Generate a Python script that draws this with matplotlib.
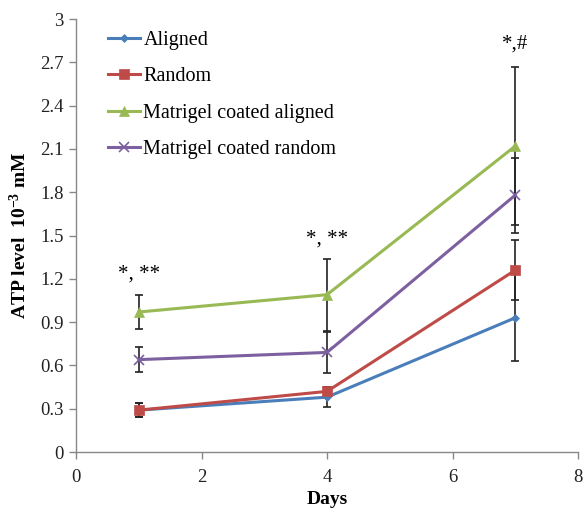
import matplotlib
matplotlib.use("Agg")
import matplotlib.pyplot as plt

days = [1, 4, 7]
aligned = [0.29, 0.38, 0.93]
aligned_err = [0.05, 0.07, 0.30]
random_ = [0.29, 0.42, 1.26]
random_err = [0.05, 0.03, 0.21]
mc_aligned = [0.97, 1.09, 2.12]
mc_aligned_err = [0.12, 0.25, 0.545]
mc_random = [0.64, 0.69, 1.78]
mc_random_err = [0.085, 0.14, 0.26]
annotations = ["*, **", "*, **", "*,#"]
annot_y = [1.17, 1.41, 2.76]

plt.rcParams['font.family'] = ['Liberation Serif', 'DejaVu Serif']
plt.rcParams['mathtext.fontset'] = 'custom'
plt.rcParams['mathtext.rm'] = 'Liberation Serif'
plt.rcParams['mathtext.bf'] = 'Liberation Serif:bold'

fig = plt.figure(figsize=(5.86, 5.13), dpi=100)
ax = fig.add_axes([0.1297, 0.1189, 0.8567, 0.844])

series = [
    ("Aligned", aligned, aligned_err, "#4a7ebb", "D", 4.5),
    ("Random", random_, random_err, "#be4b48", "s", 7),
    ("Matrigel coated aligned", mc_aligned, mc_aligned_err, "#98b954", "^", 7),
    ("Matrigel coated random", mc_random, mc_random_err, "#7d60a0", "x", 7),
]
for name, vals, err, col, mk, ms in series:
    ax.errorbar(days, vals, yerr=err, fmt='none', ecolor='#222222', elinewidth=1.2,
                capsize=3, capthick=1.2, zorder=2)
for name, vals, err, col, mk, ms in series:
    ax.plot(days, vals, color=col, lw=2.2, marker=mk, ms=ms, mew=1.2 if mk == 'x' else 0.5,
            mec=col, mfc=col, label=name, zorder=3)

for d, t, y in zip(days, annotations, annot_y):
    ax.text(d, y, t, ha='center', va='bottom', fontsize=15)

ax.set_xlim(0, 8)
ax.set_ylim(0, 3)
ax.set_xticks([0, 2, 4, 6, 8])
ax.set_yticks([0, 0.3, 0.6, 0.9, 1.2, 1.5, 1.8, 2.1, 2.4, 2.7, 3.0])
ax.set_yticklabels(["0", "0.3", "0.6", "0.9", "1.2", "1.5", "1.8", "2.1", "2.4", "2.7", "3"])
ax.tick_params(axis='both', labelsize=13.5, direction='out', length=5, color='#888888',
               width=1, labelcolor='#222222')
ax.tick_params(axis='x', pad=7)
ax.tick_params(axis='y', pad=4)
for s in ['top', 'right']:
    ax.spines[s].set_visible(False)
for s in ['left', 'bottom']:
    ax.spines[s].set_color('#888888')
    ax.spines[s].set_linewidth(1)

ax.set_xlabel("Days", fontsize=14, fontweight='bold', labelpad=4)
ax.set_ylabel(r"ATP level  $\mathbf{10^{-3}}$ mM", fontsize=14, fontweight='bold', labelpad=7)

leg = ax.legend(loc='upper left', bbox_to_anchor=(0.04, 1.0), frameon=False, fontsize=14.5,
                labelspacing=0.85, handlelength=1.6, handletextpad=0.15, borderaxespad=0.2)

fig.savefig("out.png", dpi=100)
